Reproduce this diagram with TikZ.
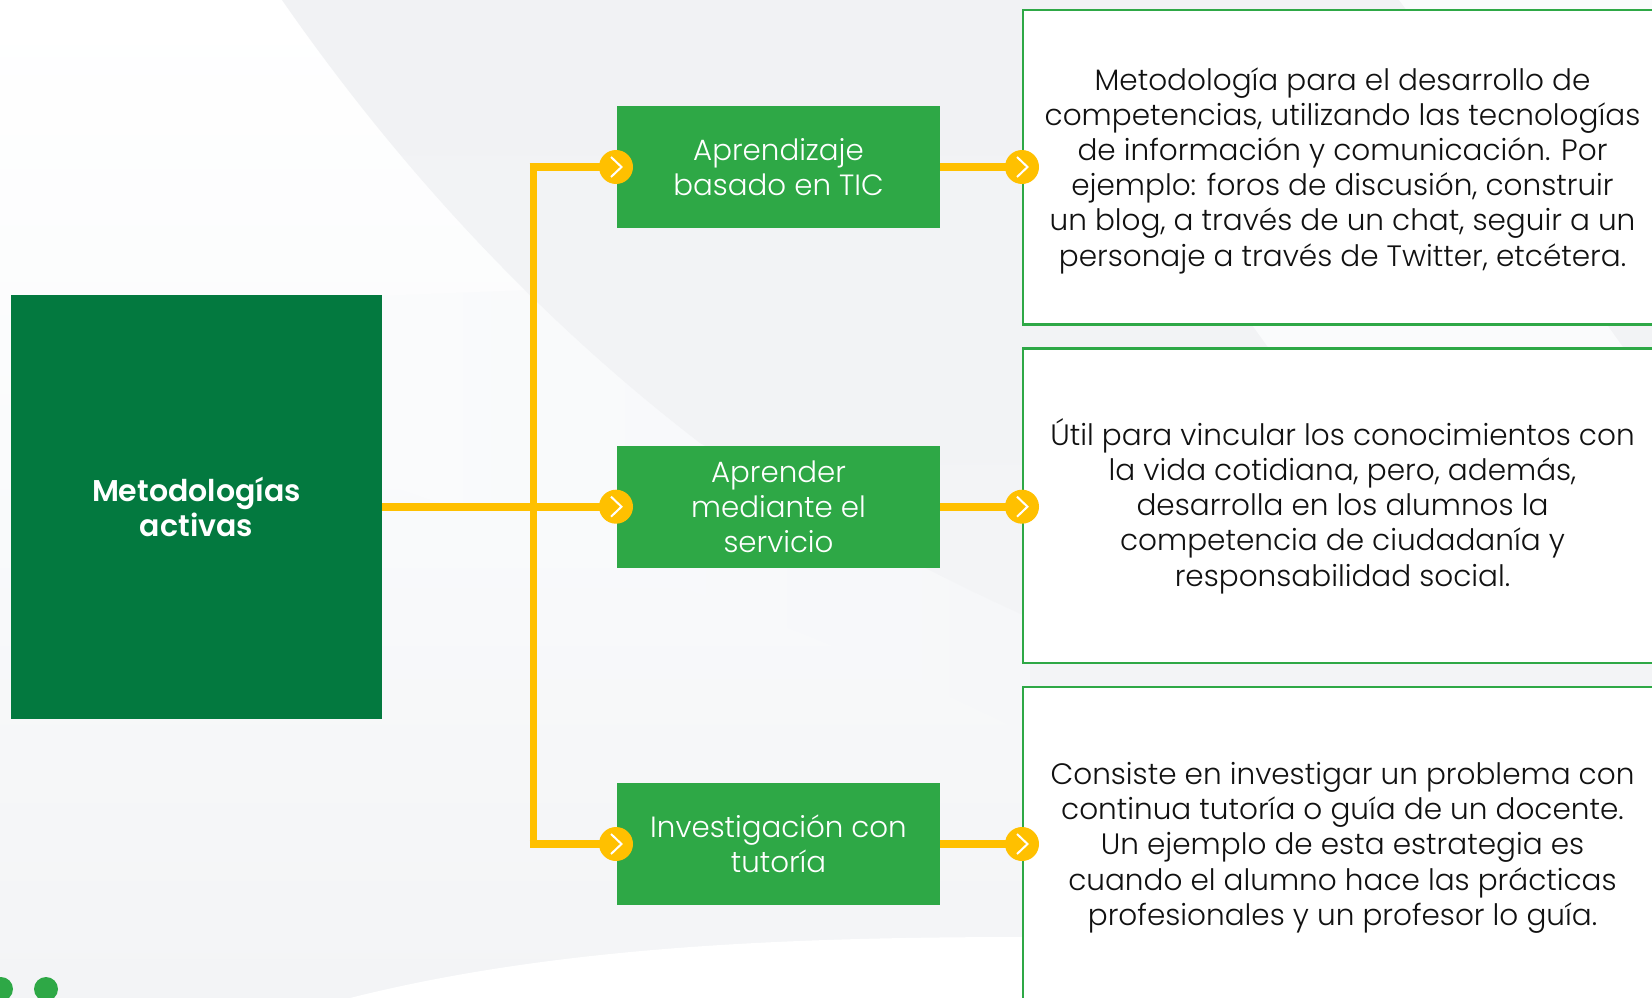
\documentclass[tikz,border=0pt]{standalone}
\usepackage{fontspec}
\setmainfont{Poppins Light}[BoldFont={Poppins SemiBold}]
\definecolor{dgreen}{HTML}{03793F}
\definecolor{mgreen}{HTML}{2EA846}
\definecolor{amber}{HTML}{FFC000}
\definecolor{bggrey}{HTML}{F1F2F4}
\definecolor{bgsoft}{HTML}{F6F7F9}
\definecolor{bgpale}{HTML}{FAFBFC}
\definecolor{bglow}{HTML}{F3F4F6}
\definecolor{ink}{HTML}{111111}
\tikzset{
  mainbox/.style={fill=dgreen,text=white,font=\fontsize{30}{35}\selectfont\bfseries,align=center,minimum width=371pt,minimum height=424pt,inner sep=0pt,outer sep=0pt},
  catbox/.style={fill=mgreen,text=white,font=\fontsize{29.3}{35}\selectfont,align=center,minimum width=323pt,minimum height=122pt,inner sep=0pt,outer sep=0pt},
  descbox/.style={draw=mgreen,line width=2.5pt,fill=white,anchor=north west,inner sep=0pt,outer sep=0pt,minimum width=640pt},
  desctext/.style={text=ink,font=\fontsize{29.5}{35.2}\selectfont,align=center,inner sep=0pt},
  link/.style={draw=amber,line width=7.6pt},
  dot/.style={circle,fill=amber,minimum size=34pt,inner sep=0pt,outer sep=0pt},
  chev/.style={draw=white,line width=2pt}
}
\begin{document}
\begin{tikzpicture}[x=1pt,y=-1pt]
\useasboundingbox (0,0) rectangle (1652,998);
% background sheets
\shade[top color=white,bottom color=bgpale] (0,0) rectangle (1652,450);
\shade[top color=bgpale,bottom color=bglow] (0,450) rectangle (1652,998);
\shade[left color=bgpale,right color=bgsoft] (382,296) -- (382,483) .. controls (600,560) and (800,620) .. (1030,735) -- (1030,300) -- (530,290) -- cycle;
\shade[top color=bggrey,bottom color=bglow] (282,0) .. controls (400,170) and (540,320) .. (700,443) .. controls (800,500) and (900,560) .. (1030,618) -- (1652,618) -- (1652,0) -- cycle;
\fill[bglow] (1030,618) -- (1652,618) -- (1652,998) -- (1030,998) -- cycle;
\fill[white] (350,998) .. controls (560,945) and (800,937) .. (1030,937) -- (1030,998) -- cycle;
\fill[bgpale] (1399,0) -- (1652,0) -- (1652,12) -- (1408,12) -- cycle;
\fill[bgpale] (1250,322) -- (1605,322) -- (1625,350) -- (1270,350) -- cycle;
% nodes
\node[mainbox] (main) at (196.5,507) {Metodologías\\activas};
\node[catbox] (b1) at (778.5,167) {Aprendizaje\\basado en TIC};
\node[catbox] (b2) at (778.5,506.7) {Aprender\\mediante el\\servicio};
\node[catbox] (b3) at (778.5,844) {Investigación con\\tutoría};
\node[descbox,minimum height=314.7pt] (d1) at (1023,10) {};
\node[descbox,minimum height=314.7pt] (d2) at (1023,348.3) {};
\node[descbox,minimum height=320pt] (d3) at (1023,687) {};
\node[desctext] (t1) at ([xshift=-0.5pt,yshift=-3.1pt]d1.center) {Metodología para el desarrollo de\\competencias, utilizando las tecnologías\\de información y comunicación. Por\\ejemplo: foros de discusión, construir\\un blog, a través de un chat, seguir a un\\personaje a través de Twitter, etcétera.};
\node[desctext] (t2) at ([xshift=-0.5pt,yshift=-0.3pt]d2.center) {Útil para vincular los conocimientos con\\la vida cotidiana, pero, además,\\desarrolla en los alumnos la\\competencia de ciudadanía y\\responsabilidad social.};
\node[desctext] (t3) at ([xshift=-0.5pt,yshift=-0.8pt]d3.center) {Consiste en investigar un problema con\\continua tutoría o guía de un docente.\\Un ejemplo de esta estrategia es\\cuando el alumno hace las prácticas\\profesionales y un profesor lo guía.};
\coordinate (top) at (533.5,167);
\coordinate (bot) at (533.5,844);
% connectors
\draw[link] (main.east |- b2) -- (b2.west);
\draw[link] (top) -- (bot);
\draw[link] ([xshift=-3.8pt]top) -- (b1.west);
\draw[link] ([xshift=-3.8pt]bot) -- (b3.west);
\draw[link] (b1.east) -- (b1.east -| d1.west);
\draw[link] (b2.east) -- (b2.east -| d2.west);
\draw[link] (b3.east) -- (b3.east -| d3.west);
\node[dot] (c1) at ([xshift=-1pt]b1.west) {};
\node[dot] (c2) at ([xshift=-1pt]b2.west) {};
\node[dot] (c3) at ([xshift=-1pt]b3.west) {};
\node[dot] (e1) at ([xshift=-1pt]d1.west |- b1) {};
\node[dot] (e2) at ([xshift=-1pt]d2.west |- b2) {};
\node[dot] (e3) at ([xshift=-1pt]d3.west |- b3) {};
\foreach \n in {c1,c2,c3,e1,e2,e3}{
  \draw[chev] ([xshift=-5pt,yshift=-10pt]\n.center) -- ([xshift=5.5pt]\n.center) -- ([xshift=-5pt,yshift=10pt]\n.center);
}
\node[circle,fill=mgreen,minimum size=24pt,inner sep=0pt] (g1) at (1,989) {};
\node[circle,fill=mgreen,minimum size=24pt,inner sep=0pt] (g2) at (46,989) {};
\end{tikzpicture}
\end{document}
